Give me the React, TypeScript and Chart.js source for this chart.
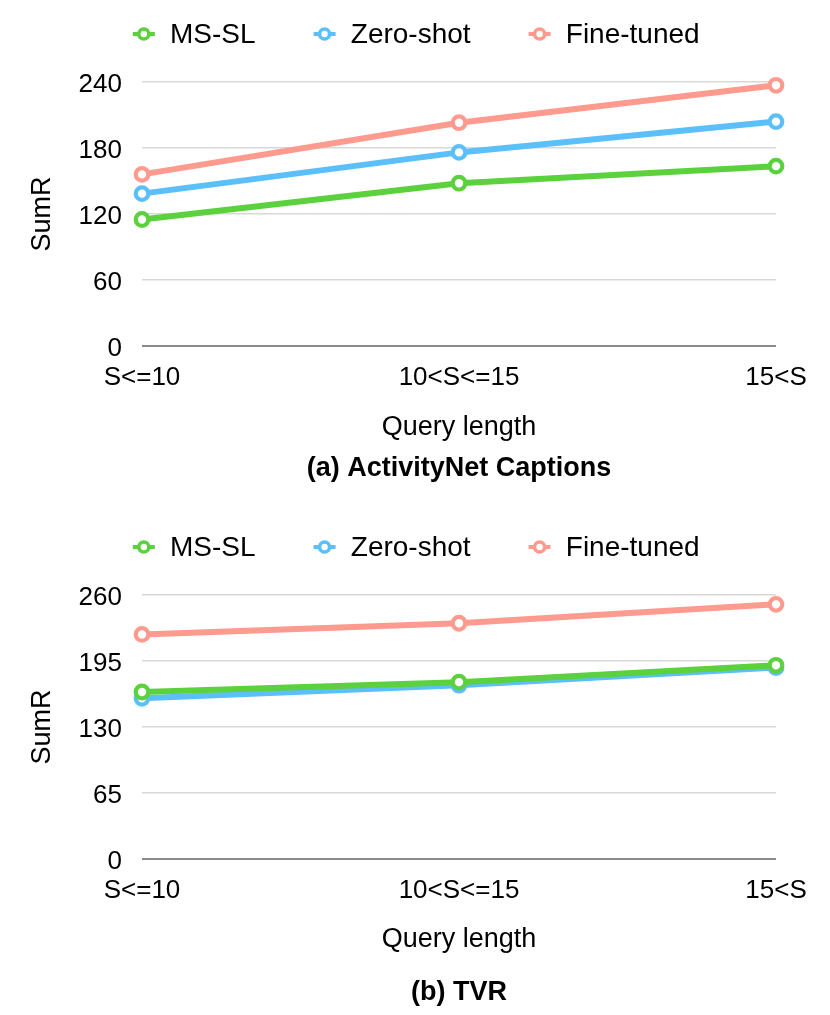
import React, { useEffect, useRef } from "react";
import { Chart, registerables } from "chart.js";

Chart.register(...registerables);

const FONT = "'Liberation Sans', Arial, Helvetica, sans-serif";

const categories = ["S<=10", "10<S<=15", "15<S"];
const seriesNames = ["MS-SL", "Zero-shot", "Fine-tuned"];
const seriesColors = ["#5bd13d", "#5bbffa", "#ff9a8e"];

// (a) ActivityNet Captions
const anetMSSL = [115, 148, 163.5];
const anetZeroShot = [138.5, 176, 204];
const anetFineTuned = [156, 203, 237];
const anetTicks = [0, 60, 120, 180, 240];

// (b) TVR
const tvrMSSL = [164.5, 174.2, 190.8];
const tvrZeroShot = [158.3, 171.2, 188.5];
const tvrFineTuned = [221.2, 232.2, 250.8];
const tvrTicks = [0, 65, 130, 195, 260];

const legendPlugin = {
  id: "customLegend",
  afterDraw(chart: any) {
    const ctx = chart.ctx as CanvasRenderingContext2D;
    const y = 34;
    ctx.save();
    ctx.font = `28px ${FONT}`;
    ctx.textBaseline = "middle";
    ctx.textAlign = "left";
    let x = 132.8;
    chart.data.datasets.forEach((ds: any) => {
      const cx = x + 11;
      ctx.strokeStyle = ds.borderColor;
      ctx.lineWidth = 4;
      ctx.beginPath();
      ctx.moveTo(x, y);
      ctx.lineTo(x + 22, y);
      ctx.stroke();
      ctx.beginPath();
      ctx.arc(cx, y, 5, 0, Math.PI * 2);
      ctx.fillStyle = "#ffffff";
      ctx.fill();
      ctx.lineWidth = 3.6;
      ctx.stroke();
      ctx.fillStyle = "#000000";
      ctx.fillText(ds.label, x + 37.2, y + 1);
      x += 37.2 + ctx.measureText(ds.label).width + 58;
    });
    ctx.restore();
  },
};

type PanelProps = {
  height: number;
  title: string;
  values: number[][];
  ticks: number[];
  axisHeight: number;
  titlePadTop: number;
  padBottom: number;
};

function Panel({ height, title, values, ticks, axisHeight, titlePadTop, padBottom }: PanelProps) {
  const ref = useRef<HTMLCanvasElement | null>(null);
  useEffect(() => {
    if (!ref.current) return;
    const step = ticks[1] - ticks[0];
    const chart = new Chart(ref.current, {
      type: "line",
      data: {
        labels: categories,
        datasets: seriesNames.map((name, i) => ({
          label: name,
          data: values[i],
          borderColor: seriesColors[i],
          backgroundColor: seriesColors[i],
          borderWidth: 6,
          pointRadius: 6.3,
          pointBorderWidth: 4.2,
          pointBackgroundColor: "#ffffff",
          pointBorderColor: seriesColors[i],
          tension: 0,
          clip: false as any,
        })),
      },
      options: {
        responsive: false,
        animation: false,
        events: [],
        layout: { padding: { top: 82, right: 54, bottom: padBottom, left: 0 } },
        plugins: {
          legend: { display: false },
          tooltip: { enabled: false },
          title: {
            display: true,
            fullSize: false,
            position: "bottom",
            text: title,
            color: "#000000",
            font: { family: FONT, size: 27, weight: "bold" },
            padding: { top: titlePadTop, bottom: 0 },
          },
        },
        scales: {
          x: {
            type: "category",
            offset: false,
            grid: { display: false, drawTicks: false },
            border: { display: false },
            ticks: {
              padding: 16,
              maxRotation: 0,
              autoSkip: false,
              color: "#000000",
              font: { family: FONT, size: 26 },
            },
            title: {
              display: true,
              text: "Query length",
              color: "#000000",
              font: { family: FONT, size: 27 },
              padding: { top: 0, bottom: 0 },
            },
            afterFit: (s: any) => {
              s.height = axisHeight;
            },
          },
          y: {
            min: ticks[0],
            max: ticks[ticks.length - 1],
            ticks: {
              stepSize: step,
              padding: 20,
              labelOffset: 2.5,
              color: "#000000",
              font: { family: FONT, size: 26 },
            },
            grid: {
              drawTicks: false,
              color: (c: any) => (c.tick && c.tick.value === 0 ? "#8a8a8a" : "#d8d8d8"),
              lineWidth: (c: any) => (c.tick && c.tick.value === 0 ? 2 : 1.5),
            },
            border: { display: false },
            title: {
              display: true,
              text: "SumR",
              color: "#000000",
              font: { family: FONT, size: 27 },
              padding: { top: 26, bottom: 0 },
            },
            afterFit: (s: any) => {
              s.width = 142;
            },
          },
        },
      },
      plugins: [legendPlugin],
    });
    return () => chart.destroy();
  }, []);
  return (
    <canvas
      ref={ref}
      width={830}
      height={height}
      style={{ display: "block", width: 830, height }}
    />
  );
}

export default function App() {
  return (
    <div style={{ position: "absolute", left: 0, top: 0, width: 830, background: "#ffffff" }}>
      <Panel
        height={513}
        title="(a) ActivityNet Captions"
        values={[anetMSSL, anetZeroShot, anetFineTuned]}
        ticks={anetTicks}
        axisHeight={97.7}
        titlePadTop={9}
        padBottom={27.9}
      />
      <Panel
        height={502}
        title="(b) TVR"
        values={[tvrMSSL, tvrZeroShot, tvrFineTuned]}
        ticks={tvrTicks}
        axisHeight={97}
        titlePadTop={20.5}
        padBottom={6}
      />
    </div>
  );
}
